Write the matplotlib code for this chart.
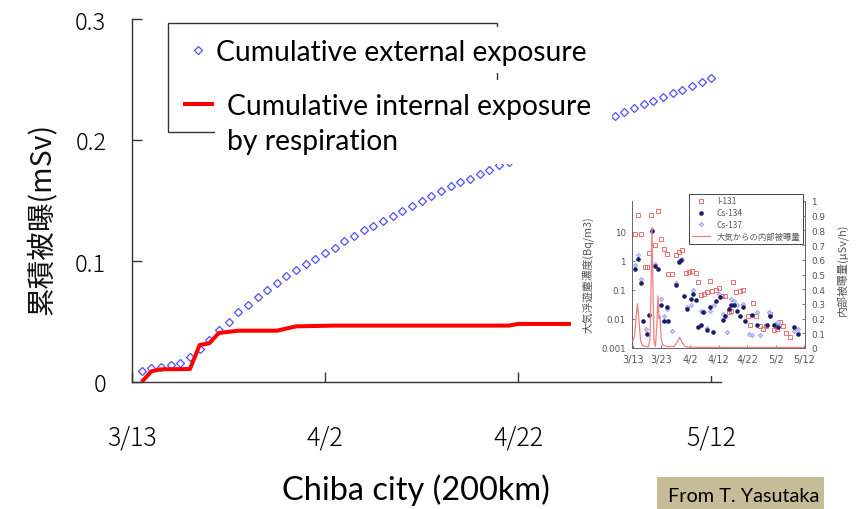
import matplotlib
matplotlib.use("Agg")
import matplotlib.pyplot as plt
import numpy as np
import pandas as pd
from matplotlib.patches import Rectangle
from matplotlib.lines import Line2D

W, H = 858, 510
nan = np.nan

# ---------------- main chart data ----------------
ext_start = "2011-03-14"          # daily readings of cumulative external exposure (mSv)
ext_values = [0.0088, 0.0113, 0.0121, 0.0140, 0.0154, 0.0204, 0.0273, 0.0350, 0.0430, 0.0500,
              0.0576, 0.0639, 0.0705, 0.0758, 0.0815, 0.0873, 0.0926, 0.0972, 0.1020, 0.1066,
              0.1110, 0.1168, 0.1210, 0.1256, 0.1290, 0.1330, 0.1370, 0.1416, 0.1457, 0.1500,
              0.1540, 0.1580, 0.1620, 0.1650, 0.1680, 0.1720, 0.1755, 0.1790, 0.1820,
              nan, nan, nan, nan, nan, nan, nan, nan, nan, nan,
              0.2196, 0.2234, 0.2264, 0.2297, 0.2325, 0.2353, 0.2386, 0.2416, 0.2444, 0.2477,
              0.2512]

int_dates = ["2011-03-14", "2011-03-15", "2011-03-16", "2011-03-19", "2011-03-20", "2011-03-21",
             "2011-03-22", "2011-03-24", "2011-03-28", "2011-03-30", "2011-04-03", "2011-04-21",
             "2011-04-22", "2011-05-12"]
int_values = [0.0, 0.0088, 0.0105, 0.0107, 0.0305, 0.0320, 0.0405, 0.0424, 0.0424, 0.0460,
              0.0466, 0.0466, 0.0480, 0.0480]

main_tick_dates = ["2011-03-13", "2011-04-02", "2011-04-22", "2011-05-12"]
main_tick_labels = ["3/13", "4/2", "4/22", "5/12"]
main_yticks = [0, 0.1, 0.2, 0.3]
main_ytick_labels = ["0", "0.1", "0.2", "0.3"]

label_ext = "Cumulative external exposure"
label_int = "Cumulative internal exposure"
label_int2 = "by respiration"
ylabel = "累積被曝(mSv)"
xlabel = "Chiba city (200km)"
credit = "From T. Yasutaka"

# ---------------- inset data (days after 3/13) ----------------
i131_day = [0.7, 1.9, 2.8, 4.2, 5.1, 5.7, 6.5, 7.7, 8.8, 9.8, 10.9, 11.9, 12.4, 13.8, 15.0, 16.2,
            17.3, 18.5, 19.7, 20.8, 22.0, 22.8, 23.7, 24.9, 25.8, 27.0, 27.8, 29.0, 30.1, 31.3,
            32.4, 33.6, 34.4, 35.1, 36.3, 37.4, 38.6, 40.2, 41.2, 42.1, 43.3, 44.4, 45.6, 46.7,
            47.9, 49.3, 50.5, 51.4, 52.6, 53.7, 54.9]
i131_val = [8.5, 39, 8.5, 0.6, 0.6, 1.9, 39, 3.6, 55, 5.7, 2.6, 1.7, 0.35, 0.35, 1.6, 2.1,
            2.3, 0.38, 0.43, 0.46, 0.38, 0.19, 0.068, 0.073, 0.088, 0.2, 0.095, 0.1, 0.12, 0.064,
            0.064, 0.017, 0.019, 0.19, 0.083, 0.095, 0.1, 0.013, 0.0063, 0.037, 0.013, 0.0059, 0.0045, 0.0059,
            0.015, 0.0041, 0.0045, 0.0077, 0.0059, 0.0033, 0.0024]

cs134_day = [0.7, 1.9, 2.8, 3.7, 4.9, 5.7, 6.6, 7.7, 8.8, 9.8, 10.9, 11.9, 12.4, 15.0, 16.2, 17.0,
             17.9, 19.1, 20.2, 21.2, 22.0, 22.8, 23.7, 24.7, 25.8, 27.0, 28.1, 29.0, 30.5, 31.6,
             32.4, 33.6, 34.4, 35.6, 36.5, 37.7, 38.6, 39.4, 41.7, 43.5, 47.0, 47.9, 49.3, 51.0,
             56.3, 58.0]
cs134_val = [0.52, 1.2, 0.18, 0.0087, 0.003, 0.014, 11, 0.69, 0.52, 0.03, 0.0087, 0.025, 0.0087, 0.15, 0.89, 1.1,
             0.063, 0.022, 0.049, 0.073, 0.046, 0.0051, 0.006, 0.017, 0.0041, 0.025, 0.0035, 0.043, 0.056, 0.0095,
             0.013, 0.022, 0.03, 0.03, 0.019, 0.013, 0.025, 0.0087, 0.014, 0.006, 0.006, 0.013, 0.006, 0.0051,
             0.0051, 0.003]

cs137_day = [0.7, 1.9, 2.8, 4.5, 6.6, 7.7, 9.8, 10.9, 11.9, 13.8, 15.0, 16.2, 17.3, 19.1, 20.2, 21.2,
             23.7, 24.9, 25.8, 27.0, 28.4, 30.1, 31.6, 33.0, 34.4, 35.3, 36.5, 38.6, 40.6, 41.7,
             43.5, 44.7, 47.6, 49.9, 51.0, 56.3, 58.0]
cs137_val = [0.7, 1.6, 0.23, 0.0045, 12, 0.8, 0.049, 0.013, 0.022, 0.004, 0.18, 1.0, 1.2, 0.025, 0.03, 0.1,
             0.019, 0.018, 0.005, 0.019, 0.03, 0.07, 0.015, 0.0035, 0.049, 0.043, 0.03, 0.033, 0.003, 0.0028,
             0.017, 0.0028, 0.017, 0.0067, 0.0077, 0.004, 0.0045]

rate_day = [0.0, 0.6, 1.1, 1.6, 2.1, 2.7, 3.4, 4.5, 5.5, 6.0, 6.4, 6.7, 7.0, 7.4, 7.9, 8.4,
            8.8, 9.2, 9.5, 9.9, 10.5, 12.0, 14.5, 15.5, 16.4, 17.2, 18.2, 20.0, 30.0, 40.0, 50.0, 60.0]
rate_val = [0.05, 0.08, 0.20, 0.30, 0.20, 0.05, 0.015, 0.01, 0.01, 0.06, 0.45, 0.82, 0.45, 0.05, 0.01, 0.15,
            0.355, 0.20, 0.22, 0.06, 0.02, 0.01, 0.01, 0.04, 0.073, 0.04, 0.01, 0.005, 0.004, 0.004, 0.004, 0.004]

inset_tick_days = [0, 10, 20, 30, 40, 50, 60]
inset_tick_labels = ["3/13", "3/23", "4/2", "4/12", "4/22", "5/2", "5/12"]
inset_yticks = [0.001, 0.01, 0.1, 1, 10]
inset_ytick_labels = ["0.001", "0.01", "0.1", "1", "10"]
inset_rticks = [0, 0.1, 0.2, 0.3, 0.4, 0.5, 0.6, 0.7, 0.8, 0.9, 1.0]
inset_rtick_labels = ["0", "0.1", "0.2", "0.3", "0.4", "0.5", "0.6", "0.7", "0.8", "0.9", "1"]
inset_labels = ["I-131", "Cs-134", "Cs-137", "大気からの内部被曝量"]
inset_ylabel_l = "大気浮遊塵濃度(Bq/m3)"
inset_ylabel_r = "内部被曝量(μSv/h)"

CJK = ["Noto Sans CJK JP", "DejaVu Sans"]
SANS = ["Lato", "DejaVu Sans"]
NUM = ["Noto Sans CJK JP", "DejaVu Sans"]

# ---------------- figure ----------------
fig = plt.figure(figsize=(W / 100, H / 100), dpi=100)
fig.patch.set_facecolor("white")
renderer = fig.canvas.get_renderer()


def fx(x):
    return x / W


def fy(y):
    return 1 - y / H


def fit_size(text, family, target_w, base=20.0, **kw):
    t = fig.text(0, 0, text, fontsize=base, family=family, **kw)
    w = t.get_window_extent(renderer).width
    t.remove()
    return base * target_w / w


# main axes
ax = fig.add_axes([fx(132), fy(383), (721 - 132) / W, (383 - 20) / H], zorder=0)
ext_dates = pd.date_range(ext_start, periods=len(ext_values), freq="D")
ax.plot(ext_dates, ext_values, linestyle="none", marker="D", ms=3.6, mfc="none",
        mec="#5050ff", mew=0.9, zorder=2)
ax.plot(pd.to_datetime(int_dates), int_values, color="#ff0000", lw=2.9, zorder=3,
        solid_joinstyle="round", solid_capstyle="butt")
ax.set_xlim(pd.Timestamp("2011-03-13"), pd.Timestamp("2011-05-13"))
ax.set_ylim(0, 0.3)
ax.set_yticks(main_yticks)
ax.set_yticklabels(main_ytick_labels, family=NUM, fontsize=17, fontweight="light")
ax.set_xticks(pd.to_datetime(main_tick_dates))
ax.set_xticklabels(main_tick_labels, family=NUM, fontsize=18, fontweight="light")
for s in ("top", "right"):
    ax.spines[s].set_visible(False)
for s in ("left", "bottom"):
    ax.spines[s].set_color("#333333")
    ax.spines[s].set_linewidth(1.0)
ax.tick_params(direction="in", length=7, width=1, color="#333333")
ax.tick_params(axis="y", pad=18.5)
ax.tick_params(axis="x", pad=30)

# y label
ys = fit_size(ylabel, CJK, 192)
fig.text(fx(42), fy(219), ylabel, rotation=90, ha="center", va="center",
         family=CJK, fontsize=ys, color="#111111")

# x label & credit
xs = fit_size(xlabel, SANS, 268)
fig.text(fx(416), fy(500), xlabel, ha="center", va="baseline", family=SANS, fontsize=xs)
fig.patches.append(Rectangle((fx(657), fy(510)), (824 - 657) / W, (510 - 478) / H,
                             transform=fig.transFigure, fc="#c4bd97", ec="none", zorder=1))
cs = fit_size(credit, SANS, 152)
fig.text(fx(668), fy(502), credit, ha="left", va="baseline", family=SANS, fontsize=cs, zorder=3)

# main legend: border + white text panels + entries
fig.patches.append(Rectangle((fx(168), fy(133)), (497 - 168) / W, (133 - 24) / H,
                             transform=fig.transFigure, fc="none", ec="#333333", lw=1.0, zorder=1))
fig.patches.append(Rectangle((fx(213), fy(74)), (612 - 213) / W, (74 - 28) / H,
                             transform=fig.transFigure, fc="white", ec="none", zorder=1.5))
fig.patches.append(Rectangle((fx(215), fy(165)), (612 - 215) / W, (165 - 81) / H,
                             transform=fig.transFigure, fc="white", ec="none", zorder=1.5))

ls = fit_size(label_ext, SANS, 371)
Fpx = ls * 100 / 72
h_ext = Line2D([], [], linestyle="none", marker="D", ms=3.6, mfc="none", mec="#5050ff", mew=0.9)
h_int = Line2D([], [], color="#ff0000", lw=2.9)
hl1 = 0.8
x01 = 198 - hl1 * Fpx / 2
leg1 = fig.legend([h_ext], [label_ext], loc="center left", bbox_to_anchor=(fx(x01), fy(53)),
                  frameon=False, prop={"family": SANS, "size": ls}, handlelength=hl1,
                  handletextpad=(216 - x01 - hl1 * Fpx) / Fpx, borderpad=0, borderaxespad=0,
                  numpoints=1)
hl2 = 27 / Fpx
leg2 = fig.legend([h_int], [label_int], loc="center left", bbox_to_anchor=(fx(185), fy(107)),
                  frameon=False, prop={"family": SANS, "size": ls}, handlelength=hl2,
                  handletextpad=15 / Fpx, borderpad=0, borderaxespad=0)
fig.text(fx(227), fy(142), label_int2, ha="left", va="center", family=SANS, fontsize=ls, zorder=6)

# ---------------- inset ----------------
fig.patches.append(Rectangle((fx(571), fy(377)), (858 - 571) / W, (377 - 190) / H,
                             transform=fig.transFigure, fc="white", ec="none", zorder=1.5))
GRAY = "#555555"
t0 = pd.Timestamp("2011-03-13")


def to_dates(days):
    return [t0 + pd.Timedelta(days=float(d)) for d in days]


axi = fig.add_axes([fx(632), fy(349), (805 - 632) / W, (349 - 202) / H], zorder=2)
axi.set_yscale("log")
axi.set_ylim(0.001, 117)
axi.set_xlim(t0 - pd.Timedelta(days=0.3), t0 + pd.Timedelta(days=60.3))
p1, = axi.plot(to_dates(i131_day), i131_val, linestyle="none", marker="s", ms=3.2, mfc="none",
               mec="#e8706f", mew=0.7, zorder=3)
p2, = axi.plot(to_dates(cs134_day), cs134_val, linestyle="none", marker="o", ms=2.8, mfc="#1a1a6a",
               mec="#1a1a6a", mew=0.4, zorder=4)
p3, = axi.plot(to_dates(cs137_day), cs137_val, linestyle="none", marker="D", ms=2.3, mfc="#c8c8f4",
               mec="#9a9aea", mew=0.5, zorder=3)
axi.set_yticks(inset_yticks)
axi.set_yticklabels(inset_ytick_labels)
axi.minorticks_off()
axi.set_xticks([t0 + pd.Timedelta(days=d) for d in inset_tick_days])
axi.set_xticklabels(inset_tick_labels)
axi.tick_params(direction="in", length=2.5, width=0.6, color="#666666", labelcolor=GRAY,
                labelsize=6.2)
axi.tick_params(axis="x", labelsize=7, pad=4)
axi.tick_params(axis="y", pad=4.5)
axi.spines["top"].set_visible(False)
for s in ("left", "bottom", "right"):
    axi.spines[s].set_color("#666666")
    axi.spines[s].set_linewidth(0.7)

axr = axi.twinx()
axr.set_zorder(2.1)
axr.patch.set_visible(False)
p4, = axr.plot(to_dates(rate_day), rate_val, color="#ef8080", lw=0.9, zorder=2)
axr.set_ylim(0, 1.0)
axr.set_yticks(inset_rticks)
axr.set_yticklabels(inset_rtick_labels)
axr.tick_params(direction="in", length=2.5, width=0.6, color="#666666", labelcolor=GRAY,
                labelsize=6.4, pad=4.5)
axr.spines["top"].set_visible(False)
axr.spines["right"].set_color("#666666")
axr.spines["right"].set_linewidth(0.7)
axr.spines["left"].set_visible(False)
axr.spines["bottom"].set_visible(False)

ileg = fig.legend([p1, p2, p3, p4], inset_labels, loc="upper right", bbox_to_anchor=(fx(803), fy(195)),
                  prop={"family": CJK, "size": 6}, frameon=True, fancybox=False, edgecolor="#444444",
                  framealpha=1, borderpad=0.3, labelspacing=0.35, handlelength=2.2, handletextpad=0.8,
                  borderaxespad=0, numpoints=1)
ileg.get_frame().set_linewidth(0.7)
for t in ileg.get_texts():
    t.set_color(GRAY)

ils = fit_size(inset_ylabel_l, CJK, 117)
fig.text(fx(588), fy(275), inset_ylabel_l, rotation=90, ha="center", va="center",
         family=CJK, fontsize=ils, color=GRAY, zorder=3)
irs = fit_size(inset_ylabel_r, CJK, 92)
fig.text(fx(842), fy(270), inset_ylabel_r, rotation=90, ha="center", va="center",
         family=CJK, fontsize=irs, color=GRAY, zorder=3)

fig.savefig("out.png", dpi=100)
